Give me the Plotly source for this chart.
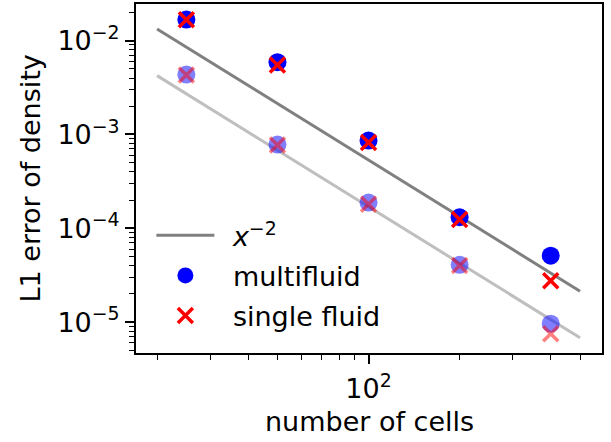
import plotly.graph_objects as go
import math

# ---- data ----
cells = [25, 50, 100, 200, 400]
multifluid = [1.68e-2, 5.9e-3, 8.6e-4, 1.31e-4, 5.1e-5]
single_fluid = [1.67e-2, 5.5e-3, 8.2e-4, 1.24e-4, 2.75e-5]
multifluid_b = [4.35e-3, 7.8e-4, 1.88e-4, 4.07e-5, 9.6e-6]
single_fluid_b = [4.3e-3, 7.7e-4, 1.8e-4, 4.0e-5, 7.5e-6]
ref_x = [20, 500]
ref_dark = [1.333e-2, 2.13e-5]
ref_light = [4.24e-3, 6.8e-6]

x_major = [100]
x_major_text = ["10<sup>2</sup>"]
x_minor = [20, 30, 40, 50, 60, 70, 80, 90, 200, 300, 400, 500]
y_major = [1e-2, 1e-3, 1e-4, 1e-5]
y_major_text = ["10<sup>\u22122</sup>", "10<sup>\u22123</sup>", "10<sup>\u22124</sup>", "10<sup>\u22125</sup>"]
y_minor = [m * 10.0 ** e for e in (-6, -5, -4, -3, -2) for m in range(2, 10)]

FONT = "DejaVu Sans"
FS = 27
SP = "\u2002"

fig = go.Figure()
fig.add_trace(go.Scatter(x=ref_x, y=ref_dark, mode="lines", line=dict(color="#808080", width=3),
                         name=SP + "<i>x</i><sup>\u22122</sup>", legendgroup="a"))
fig.add_trace(go.Scatter(x=ref_x, y=ref_light, mode="lines", line=dict(color="#bfbfbf", width=3),
                         showlegend=False))
fig.add_trace(go.Scatter(x=cells, y=multifluid, mode="markers",
                         marker=dict(color="blue", size=18, symbol="circle", line=dict(width=0)),
                         name=SP + "multifluid", legendgroup="b"))
fig.add_trace(go.Scatter(x=cells, y=single_fluid, mode="markers",
                         marker=dict(color="red", size=15, symbol="x-thin", line=dict(width=3.5, color="red")),
                         name=SP + "single fluid", legendgroup="c"))
fig.add_trace(go.Scatter(x=cells, y=multifluid_b, mode="markers",
                         marker=dict(color="rgba(0,0,255,0.5)", size=18, symbol="circle", line=dict(width=0)),
                         showlegend=False))
fig.add_trace(go.Scatter(x=cells, y=single_fluid_b, mode="markers",
                         marker=dict(color="rgba(255,0,0,0.5)", size=15, symbol="x-thin",
                                     line=dict(width=3.5, color="rgba(255,0,0,0.5)")),
                         showlegend=False))

axis_common = dict(type="log", showgrid=False, zeroline=False, showline=True, linecolor="black",
                   linewidth=2, mirror=True, ticks="outside", ticklen=9, tickwidth=1.5, automargin=False,
                   tickcolor="black", tickfont=dict(family=FONT, size=FS, color="black"))

fig.update_layout(
    width=611, height=442,
    margin=dict(l=136, r=9, t=4, b=89),
    paper_bgcolor="white", plot_bgcolor="white",
    font=dict(family=FONT, size=FS, color="black"),
    xaxis=dict(range=[math.log10(17.04), math.log10(591)], tickvals=x_major, ticktext=x_major_text,
               ticklabelstandoff=2,
               minor=dict(tickvals=x_minor, ticks="outside", ticklen=5, tickwidth=1.2, tickcolor="black"),
               **axis_common),
    yaxis=dict(range=[-5.330, -1.609], tickvals=y_major, ticktext=y_major_text,
               minor=dict(tickvals=y_minor, ticks="outside", ticklen=5, tickwidth=1.2, tickcolor="black"),
               **axis_common),
    legend=dict(x=0.033, y=0.406, xanchor="left", yanchor="top", bgcolor="rgba(0,0,0,0)",
                font=dict(family=FONT, size=FS, color="black"), tracegroupgap=2, itemwidth=58),
    showlegend=True,
    annotations=[
        dict(text="number of cells", xref="paper", yref="paper", x=0.5, y=-0.195,
             xanchor="center", yanchor="middle", showarrow=False, font=dict(family=FONT, size=FS)),
        dict(text="L1 error of density", xref="paper", yref="paper", x=0, xshift=-106, y=0.5,
             xanchor="center", yanchor="middle", textangle=-90, showarrow=False,
             font=dict(family=FONT, size=FS)),
    ],
)

fig.write_html("out.html", config={"displayModeBar": False},
               post_script="document.body.style.margin='0';document.body.style.overflow='hidden';")
